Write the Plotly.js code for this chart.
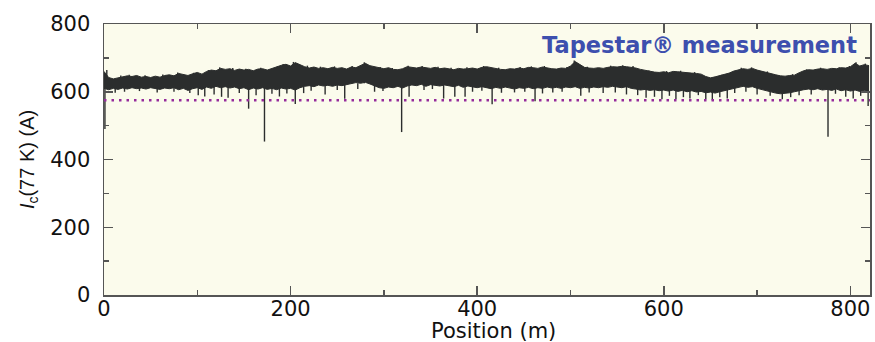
<!DOCTYPE html>
<html>
<head>
<meta charset="utf-8">
<script src="https://cdn.plot.ly/plotly-3.0.1.min.js"></script>
<style>html,body{margin:0;padding:0;background:#fff;}#chart{width:875px;height:342px;}</style>
</head>
<body>
<div id="chart"></div>
<script>
// Position along the tape (m), sampled every 5 m
const position = [0,5,10,15,20,25,30,35,40,45,50,55,60,65,70,75,80,85,90,95,
100,105,110,115,120,125,130,135,140,145,150,155,160,165,170,175,180,185,190,195,
200,205,210,215,220,225,230,235,240,245,250,255,260,265,270,275,280,285,290,295,
300,305,310,315,320,325,330,335,340,345,350,355,360,365,370,375,380,385,390,395,
400,405,410,415,420,425,430,435,440,445,450,455,460,465,470,475,480,485,490,495,
500,505,510,515,520,525,530,535,540,545,550,555,560,565,570,575,580,585,590,595,
600,605,610,615,620,625,630,635,640,645,650,655,660,665,670,675,680,685,690,695,
700,705,710,715,720,725,730,735,740,745,750,755,760,765,770,775,780,785,790,795,
800,805,810,815,820];
// Upper edge of the Ic(77 K) noise band (A)
const icUpper = [660,642,638,641,644,647,645,648,643,645,642,646,643,648,650,647,654,651,648,653,
657,652,660,664,662,669,666,668,663,667,664,666,662,667,668,664,669,672,678,681,
676,686,679,674,670,673,669,671,668,672,669,671,667,673,671,678,684,677,674,670,
668,671,666,665,668,674,672,670,673,671,669,672,668,670,668,665,669,667,668,670,
667,672,674,671,669,666,665,668,667,670,668,672,671,669,673,670,668,667,670,669,
676,689,680,672,670,669,671,669,672,674,673,675,674,673,670,666,663,660,658,657,
659,656,660,659,657,656,655,654,652,645,641,644,647,652,655,661,665,668,666,669,
664,660,657,653,650,647,646,648,649,656,662,665,664,667,668,666,669,668,671,670,
674,684,676,680,677];
// Lower edge of the Ic(77 K) noise band (A)
const icLower = [610,606,610,607,611,608,612,609,611,608,612,610,607,611,609,612,606,610,604,609,
612,607,614,610,616,612,615,611,614,609,612,606,611,608,612,607,610,606,611,608,
610,605,612,616,618,615,620,617,619,616,620,618,621,624,627,625,628,623,618,612,
610,614,612,616,611,617,620,618,622,616,621,619,617,620,618,615,619,613,617,615,
612,615,611,609,613,610,614,611,608,612,610,613,609,612,610,614,611,613,610,614,
612,615,610,613,611,614,612,615,613,616,614,612,615,610,608,605,607,604,606,603,
605,602,605,601,604,600,603,599,601,597,599,596,600,603,607,610,614,616,613,615,
610,606,602,598,596,594,595,597,600,604,606,608,606,609,605,607,604,608,603,606,
602,605,601,604,600];
// Downward drops of Ic: position (m) and minimum value (A)
const dipPosition = [1,12,22,38,57,75,92,101,108,118,126,133,145,155,163,172,180,188,196,205,
214,222,237,250,258,272,290,299,319,327,343,352,364,376,387,395,405,416,426,440,
451,462,470,481,491,511,520,535,548,560,572,581,590,598,606,613,621,628,637,645,
652,660,668,676,688,700,714,727,736,745,758,776,784,795,803,811,819];
const dipMin = [490,597,600,602,598,600,596,590,586,592,585,582,596,550,590,453,594,586,595,564,
596,603,592,605,579,608,600,602,481,585,605,608,580,585,585,600,603,563,597,598,
600,572,595,598,600,588,598,596,598,592,590,582,585,578,588,578,584,580,590,578,
575,584,580,596,600,592,588,578,584,590,592,467,594,585,580,588,558];
// Upward noise peaks: position (m) and maximum value (A)
const peakPosition = [3,18,27,44,63,79,96,112,124,138,152,168,186,192,203,218,232,247,266,279,
296,309,326,341,358,372,389,407,423,446,458,472,496,504,518,543,556,567,584,603,
618,633,662,683,694,711,738,753,768,788,799,806,816];
const peakMax = [664,648,650,649,651,657,656,664,672,670,668,671,675,682,688,677,674,675,676,687,
673,670,677,676,674,671,672,676,671,673,675,676,672,692,674,677,678,676,663,661,
662,658,650,671,672,660,652,666,671,672,676,687,683];
const bandInside = 625;
// Specification / threshold level (dotted line)
const thresholdIc = 575;

const xRange = [0, 821];
const yRange = [0, 800];
const legendText = 'Tapestar\u00ae measurement';
const xTitle = 'Position (m)';
const yTitle = '<i>I</i><sub>c</sub>(77 K) (A)';

const bandColor = '#2b2d2d';
const dx = [], dy = [];
for (let i = 0; i < dipPosition.length; i++) {
  dx.push(dipPosition[i], dipPosition[i], null);
  dy.push(bandInside, dipMin[i], null);
}
const px = [], py = [];
for (let i = 0; i < peakPosition.length; i++) {
  px.push(peakPosition[i], peakPosition[i], null);
  py.push(bandInside, peakMax[i], null);
}

const traces = [
  {x: dx, y: dy, type: 'scatter', mode: 'lines', line: {color: bandColor, width: 1.4}, hoverinfo: 'skip'},
  {x: px, y: py, type: 'scatter', mode: 'lines', line: {color: bandColor, width: 1.4}, hoverinfo: 'skip'},
  {x: position, y: icLower, type: 'scatter', mode: 'lines', line: {color: bandColor, width: 1}, hoverinfo: 'skip'},
  {x: position, y: icUpper, type: 'scatter', mode: 'lines', fill: 'tonexty', fillcolor: bandColor,
   line: {color: bandColor, width: 1}, hoverinfo: 'skip'}
];

const axisCommon = {
  showgrid: false, zeroline: false, showline: true, linecolor: '#555', linewidth: 1.5,
  mirror: 'ticks', ticks: 'inside', ticklen: 9, tickwidth: 1.5, tickcolor: '#555',
  tickfont: {family: 'DejaVu Sans', size: 21, color: '#111'}
};

const layout = {
  width: 875, height: 342,
  margin: {l: 104, r: 5, t: 24, b: 47},
  paper_bgcolor: '#ffffff', plot_bgcolor: '#fbfbec',
  showlegend: false,
  xaxis: Object.assign({}, axisCommon, {
    range: xRange, dtick: 200, tick0: 0,
    minor: {dtick: 100, ticks: 'inside', ticklen: 5, tickwidth: 1.5, tickcolor: '#555'},
    ticklabelstandoff: -6
  }),
  yaxis: Object.assign({}, axisCommon, {
    range: yRange, dtick: 200, tick0: 0,
    minor: {dtick: 100, ticks: 'inside', ticklen: 5, tickwidth: 1.5, tickcolor: '#555'},
    ticklabelstandoff: 8,
    title: {text: yTitle, font: {family: 'Liberation Sans', size: 20, color: '#111'}, standoff: 10}
  }),
  shapes: [{type: 'line', xref: 'paper', x0: 0, x1: 1, yref: 'y', y0: thresholdIc, y1: thresholdIc,
    line: {color: '#962c9b', width: 2.5, dash: '2.5px,5px'}}],
  annotations: [
    {text: '<b>' + legendText + '</b>', xref: 'paper', yref: 'paper', x: 0.985, y: 0.978,
     xanchor: 'right', yanchor: 'top', showarrow: false,
     font: {family: 'DejaVu Sans', size: 22.5, color: '#3d4fae'}},
    {text: xTitle, xref: 'paper', yref: 'paper', x: 0.508, y: -0.1328,
     xanchor: 'center', yanchor: 'middle', showarrow: false, borderpad: 0,
     font: {family: 'DejaVu Sans', size: 21, color: '#111'}}
  ]
};

Plotly.newPlot('chart', traces, layout, {staticPlot: true, displayModeBar: false});
</script>
</body>
</html>
